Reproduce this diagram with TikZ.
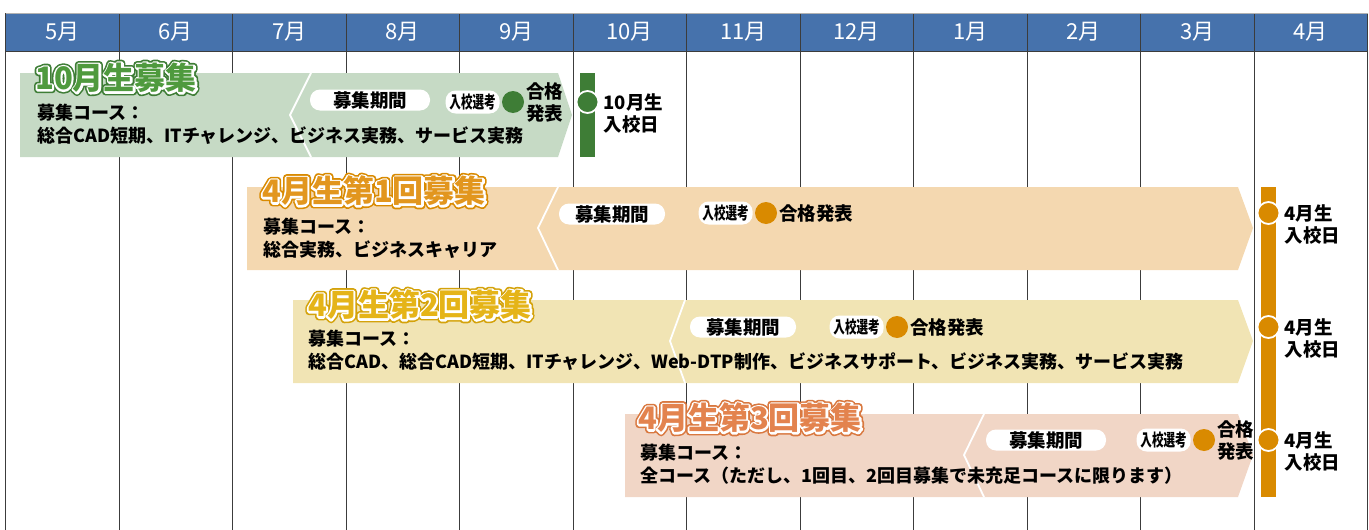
\documentclass[tikz,border=0pt]{standalone}
\usepackage{fontspec}
\setmainfont{Noto Sans CJK JP}
\usetikzlibrary{positioning}

\definecolor{hdblue}{HTML}{4672AC}
\definecolor{gridgray}{HTML}{3C3C3C}
\definecolor{bandA}{HTML}{C6DAC5}
\definecolor{bandB}{HTML}{F4D8B0}
\definecolor{bandC}{HTML}{F1E4B4}
\definecolor{bandD}{HTML}{F1D6C6}
\definecolor{gdark}{HTML}{3E7D36}
\definecolor{gfill}{HTML}{4F9A3E}
\definecolor{odark}{HTML}{D98A00}
\definecolor{ofill}{HTML}{E2961E}
\definecolor{ydark}{HTML}{D4A20A}
\definecolor{yfill}{HTML}{E5B418}
\definecolor{pdark}{HTML}{D9783F}
\definecolor{pfill}{HTML}{E3834E}

% stroked text (outline width in pt)
\newcommand{\strk}[3]{\textcolor{#1}{\special{pdf:literal direct 2 Tr #2 w 1 j}#3\special{pdf:literal direct 0 Tr}}}
% title with two outlines
\newcommand{\boshu}[5]{%
  \node[ttl] (#5) at #1 {\rlap{\strk{#2}{7}{#4}}\rlap{\strk{white}{3.8}{#4}}\textcolor{#3}{#4}};}

\begin{document}
\begin{tikzpicture}[x=1pt,y=-1pt,
  month/.style={text=white,font=\fontsize{22}{22}\selectfont},
  gridline/.style={draw=gridgray,line width=0.9pt},
  chev/.style={draw=white,line width=1.8pt},
  ttl/.style={anchor=west,inner sep=0,font=\bfseries\fontsize{31}{31}\selectfont},
  body/.style={anchor=west,inner sep=0,align=left,font=\bfseries\fontsize{18}{23}\selectfont},
  pill/.style={fill=white,rounded corners=10pt,minimum width=106pt,minimum height=21pt,inner sep=0,font=\bfseries\fontsize{18.5}{18.5}\selectfont},
  senko/.style={fill=white,rounded corners=10pt,minimum width=54pt,minimum height=23pt,inner sep=0,font=\bfseries\fontsize{17}{17}\selectfont},
  dot/.style={circle,inner sep=0,minimum size=22pt},
  entry/.style={circle,inner sep=0,minimum size=22pt,draw=white,line width=1.8pt},
  gokaku/.style={anchor=west,inner sep=0,align=left,font=\bfseries\fontsize{18.5}{22}\selectfont}]
\useasboundingbox (0,0) rectangle (1369,530);

% header and month grid
\fill[hdblue] (5.5,13) rectangle (1367.5,51);
\foreach \i in {0,...,12}
  \draw[gridline] (5.5+\i*113.5,13) -- (5.5+\i*113.5,530);
\draw[gridline] (5.5,51) -- (1367.5,51);
\draw[draw=gray!60] (5.5,13) -- (1367.5,13);
\foreach \m [count=\i from 0] in {5,6,7,8,9,10,11,12,1,2,3,4}
  \node[month] (m\i) at (62.25+\i*113.5,32) {\m 月};

% 10月生
\fill[bandA] (20,73) -- (558,73) -- (572,115) -- (558,157) -- (20,157) -- cycle;
\draw[chev] (311,73) -- (290,115) -- (311,157);
\boshu{(35,78)}{gdark}{gfill}{10月生募集}{tA}
\node[body] (cA) at (37,124.5) {募集コース：\\総合CAD短期、ITチャレンジ、ビジネス実務、サービス実務};
\node[pill,minimum width=120pt] (kA) at (370,100) {募集期間};
\node[dot,fill=gdark] (dA) at (513,102) {};
\node[senko,left=2pt of dA] (sA) {\scalebox{0.68}[1]{入校選考}};
\node[gokaku,right=2pt of dA] (gA) {合格\\発表};
\fill[gdark] (580,73) rectangle (595,157);
\node[entry,fill=gdark] (eA) at (587.5,102) {};
\node[gokaku,right=4pt of eA.east,yshift=-11pt] (nA) {10月生\\入校日};

% 4月生 bands
\fill[bandB] (247,187) -- (1238,187) -- (1253,228) -- (1238,270) -- (247,270) -- cycle;
\draw[chev] (558,187) -- (538,228) -- (558,270);
\boshu{(262,191)}{odark}{ofill}{4月生第1回募集}{tB}
\node[body] (cB) at (263,238) {募集コース：\\総合実務、ビジネスキャリア};
\node[pill] (kB) at (612,214) {募集期間};
\node[dot,fill=odark] (dB) at (766,213) {};
\node[senko,left=2pt of dB] (sB) {\scalebox{0.68}[1]{入校選考}};
\node[gokaku,right=2pt of dB] (gB) {合格発表};

\fill[bandC] (293,300) -- (1238,300) -- (1253,341) -- (1238,383) -- (293,383) -- cycle;
\draw[chev] (685,300) -- (670,341) -- (685,383);
\boshu{(308,305)}{ydark}{yfill}{4月生第2回募集}{tC}
\node[body] (cC) at (308,350) {募集コース：\\総合CAD、総合CAD短期、ITチャレンジ、Web-DTP制作、ビジネスサポート、ビジネス実務、サービス実務};
\node[pill] (kC) at (743,327) {募集期間};
\node[dot,fill=odark] (dC) at (897,327) {};
\node[senko,left=2pt of dC] (sC) {\scalebox{0.68}[1]{入校選考}};
\node[gokaku,right=2pt of dC] (gC) {合格発表};

\fill[bandD] (625,414) -- (1238,414) -- (1253,455) -- (1238,497) -- (625,497) -- cycle;
\draw[chev] (984,414) -- (964,455) -- (984,497);
\boshu{(638,418)}{pdark}{pfill}{4月生第3回募集}{tD}
\node[body] (cD) at (640,464) {募集コース：\\全コース（ただし、1回目、2回目募集で未充足コースに限ります）};
\node[pill,minimum width=120pt] (kD) at (1046,440) {募集期間};
\node[dot,fill=odark] (dD) at (1204,440) {};
\node[senko,left=2pt of dD] (sD) {\scalebox{0.68}[1]{入校選考}};
\node[gokaku,right=2pt of dD] (gD) {合格\\発表};

% 4月生 entrance
\fill[odark] (1261,187) rectangle (1276,497);
\foreach \y [count=\k] in {213,327,440} {
  \node[entry,fill=odark] (e\k) at (1268.5,\y) {};
  \node[gokaku,right=4pt of e\k.east,yshift=-11pt] (n\k) {4月生\\入校日};
}
\end{tikzpicture}
\end{document}
